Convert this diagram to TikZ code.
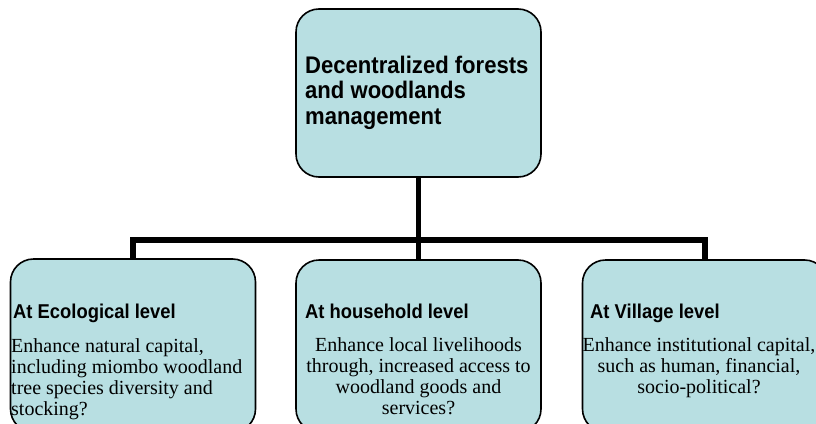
\documentclass[tikz,border=0pt]{standalone}
\usepackage{fontspec}
\setmainfont{Liberation Serif}
\newfontfamily\headfont[FakeStretch=0.92]{Liberation Sans}
\definecolor{boxfill}{RGB}{184,223,226}
\begin{document}
\begin{tikzpicture}[x=1pt,y=-1pt,
  box/.style={draw=black, line width=1.6pt, fill=boxfill, rounded corners=23pt,
    minimum width=245pt, inner sep=0pt},
  conn/.style={draw=black, line width=5.5pt, line join=miter},
  titletext/.style={inner sep=0pt, align=left, font=\headfont\bfseries\fontsize{24}{25.5}\selectfont},
  headtext/.style={inner sep=0pt, font=\headfont\bfseries\fontsize{20}{22}\selectfont},
  bodytext/.style={inner sep=0pt, font=\fontsize{20}{20.7}\selectfont}]
\useasboundingbox (0,0) rectangle (816,423);
\clip (0,0) rectangle (816,423);
% boxes
\node[box, minimum height=168pt] (top) at (418.5,93) {};
\node[box, minimum height=173pt] (eco) at (133,345.5) {};
\node[box, minimum height=172pt] (house) at (418.5,346) {};
\node[box, minimum height=172pt] (village) at (705,346) {};
% connectors
\coordinate (bar) at (418.5,240);
\draw[conn] (top.south) -- (bar);
\draw[conn] (eco.north) |- (bar) -| (village.north);
\draw[conn] (bar) -- (house.north);
% texts (multi-line nodes: base anchor = baseline of last line)
\node[titletext, anchor=base west] (tt) at (305,124) {Decentralized forests\\and woodlands\\management};
\node[headtext, anchor=base west] (h1) at (13,318) {At Ecological level};
\node[headtext, anchor=base west] (h2) at (305,318) {At household level};
\node[headtext, anchor=base west] (h3) at (590,318) {At Village level};
\node[bodytext, align=left, anchor=base west] (b1) at (11,415) {Enhance natural capital,\\including miombo woodland\\tree species diversity and\\stocking?};
\node[bodytext, align=center, anchor=base] (b2) at (418.5,414) {Enhance local livelihoods\\through, increased access to\\woodland goods and\\services?};
\node[bodytext, align=center, anchor=base] (b3) at (699,393) {Enhance institutional capital,\\such as human, financial,\\socio-political?};
\end{tikzpicture}
\end{document}
